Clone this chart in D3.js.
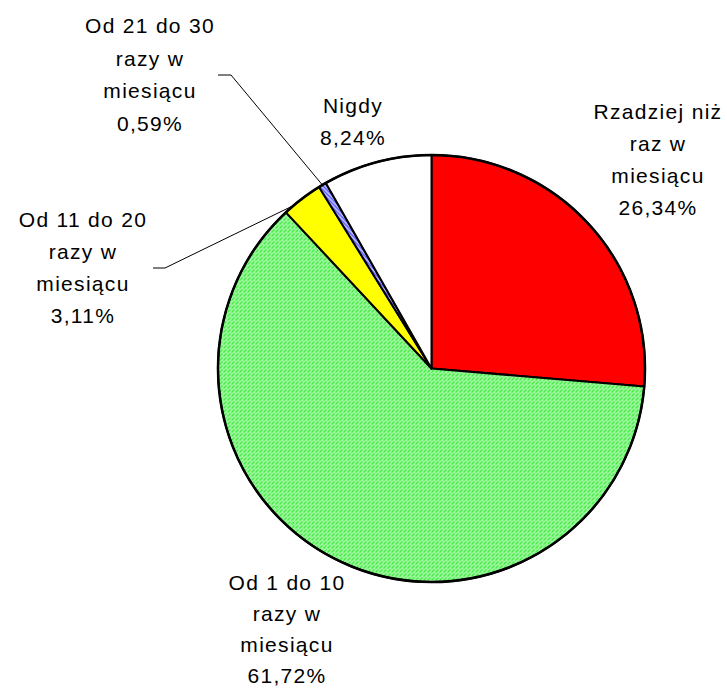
<!DOCTYPE html>
<html>
<head>
<meta charset="utf-8">
<script src="https://cdn.jsdelivr.net/npm/d3@7"></script>
<style>
  html, body { margin: 0; padding: 0; background: #fff; }
  svg { display: block; }
  text { font-family: "Liberation Sans", Arial, sans-serif; font-size: 21px; fill: #000; letter-spacing: 1.3px; }
</style>
</head>
<body>
<svg id="chart" width="727" height="690"></svg>
<script>
// ---- data ----
const categories = ["Rzadziej niż raz w miesiącu", "Od 1 do 10 razy w miesiącu", "Od 11 do 20 razy w miesiącu", "Od 21 do 30 razy w miesiącu", "Nigdy"];
const values = [26.34, 61.72, 3.11, 0.59, 8.24];
const valueLabels = ["26,34%", "61,72%", "3,11%", "0,59%", "8,24%"];
const labelLines = [
  ["Rzadziej niż", "raz w", "miesiącu"],
  ["Od 1 do 10", "razy w", "miesiącu"],
  ["Od 11 do 20", "razy w", "miesiącu"],
  ["Od 21 do 30", "razy w", "miesiącu"],
  ["Nigdy"]
];
const fills = ["#ff0000", "url(#greenHatch)", "#ffff00", "url(#blueHatch)", "#ffffff"];

// ---- layout ----
const cx = 431.5, cy = 368.5, R = 213.5;
// label placement: center x, first baseline y, line height, optional leader
const labelPos = [
  { x: 658, y: 119, lh: 32 },
  { x: 287, y: 590, lh: 31 },
  { x: 83, y: 227, lh: 32, leader: { frac: 0.25, ex: 165, ey: 268, hx: 153 } },
  { x: 150, y: 33, lh: 32.5, leader: { frac: 0.5, ex: 231, ey: 75, hx: 218 } },
  { x: 353, y: 113, lh: 32 }
];

const svg = d3.select("#chart");
const defs = svg.append("defs");

// green speckled hatch
const gp = defs.append("pattern").attr("id", "greenHatch")
  .attr("patternUnits", "userSpaceOnUse").attr("width", 4).attr("height", 4);
gp.append("rect").attr("width", 4).attr("height", 4).attr("fill", "#44ee44");
[[1,0],[0,1],[3,2],[2,3],[3,0]].forEach(([x,y]) =>
  gp.append("rect").attr("x", x).attr("y", y).attr("width", 1).attr("height", 1).attr("fill", "#ffffff"));

// blue striped hatch
const bp = defs.append("pattern").attr("id", "blueHatch")
  .attr("patternUnits", "userSpaceOnUse").attr("width", 4).attr("height", 4);
bp.append("rect").attr("width", 4).attr("height", 4).attr("fill", "#4a4aff");
bp.append("path").attr("d", "M0,0 L4,4 M-1,3 L1,5 M3,-1 L5,1")
  .attr("stroke", "#ffffff").attr("stroke-width", 1.2);

const pie = d3.pie().sort(null).value(d => d)(values);
const arc = d3.arc().innerRadius(0).outerRadius(R);

const g = svg.append("g").attr("transform", `translate(${cx},${cy})`);
g.selectAll("path.slice").data(pie).join("path")
  .attr("class", "slice")
  .attr("d", arc)
  .attr("fill", (d, i) => fills[i])
  .attr("stroke", "#000")
  .attr("stroke-width", 2)
  .attr("stroke-linejoin", "round");

// outer outline
g.append("circle").attr("r", R).attr("fill", "none").attr("stroke", "#000").attr("stroke-width", 2.5);

// labels
pie.forEach((d, i) => {
  const p = labelPos[i];
  const lines = labelLines[i].concat([valueLabels[i]]);
  const t = svg.append("text").attr("text-anchor", "middle");
  lines.forEach((ln, k) => {
    t.append("tspan").attr("x", p.x).attr("y", p.y + k * p.lh).text(ln);
  });
  if (p.leader) {
    const a = d.startAngle + (d.endAngle - d.startAngle) * p.leader.frac;
    const px = cx + R * Math.sin(a), py = cy - R * Math.cos(a);
    svg.append("polyline")
      .attr("points", `${p.leader.hx},${p.leader.ey} ${p.leader.ex},${p.leader.ey} ${px},${py}`)
      .attr("fill", "none").attr("stroke", "#000").attr("stroke-width", 1);
  }
});
</script>
</body>
</html>
